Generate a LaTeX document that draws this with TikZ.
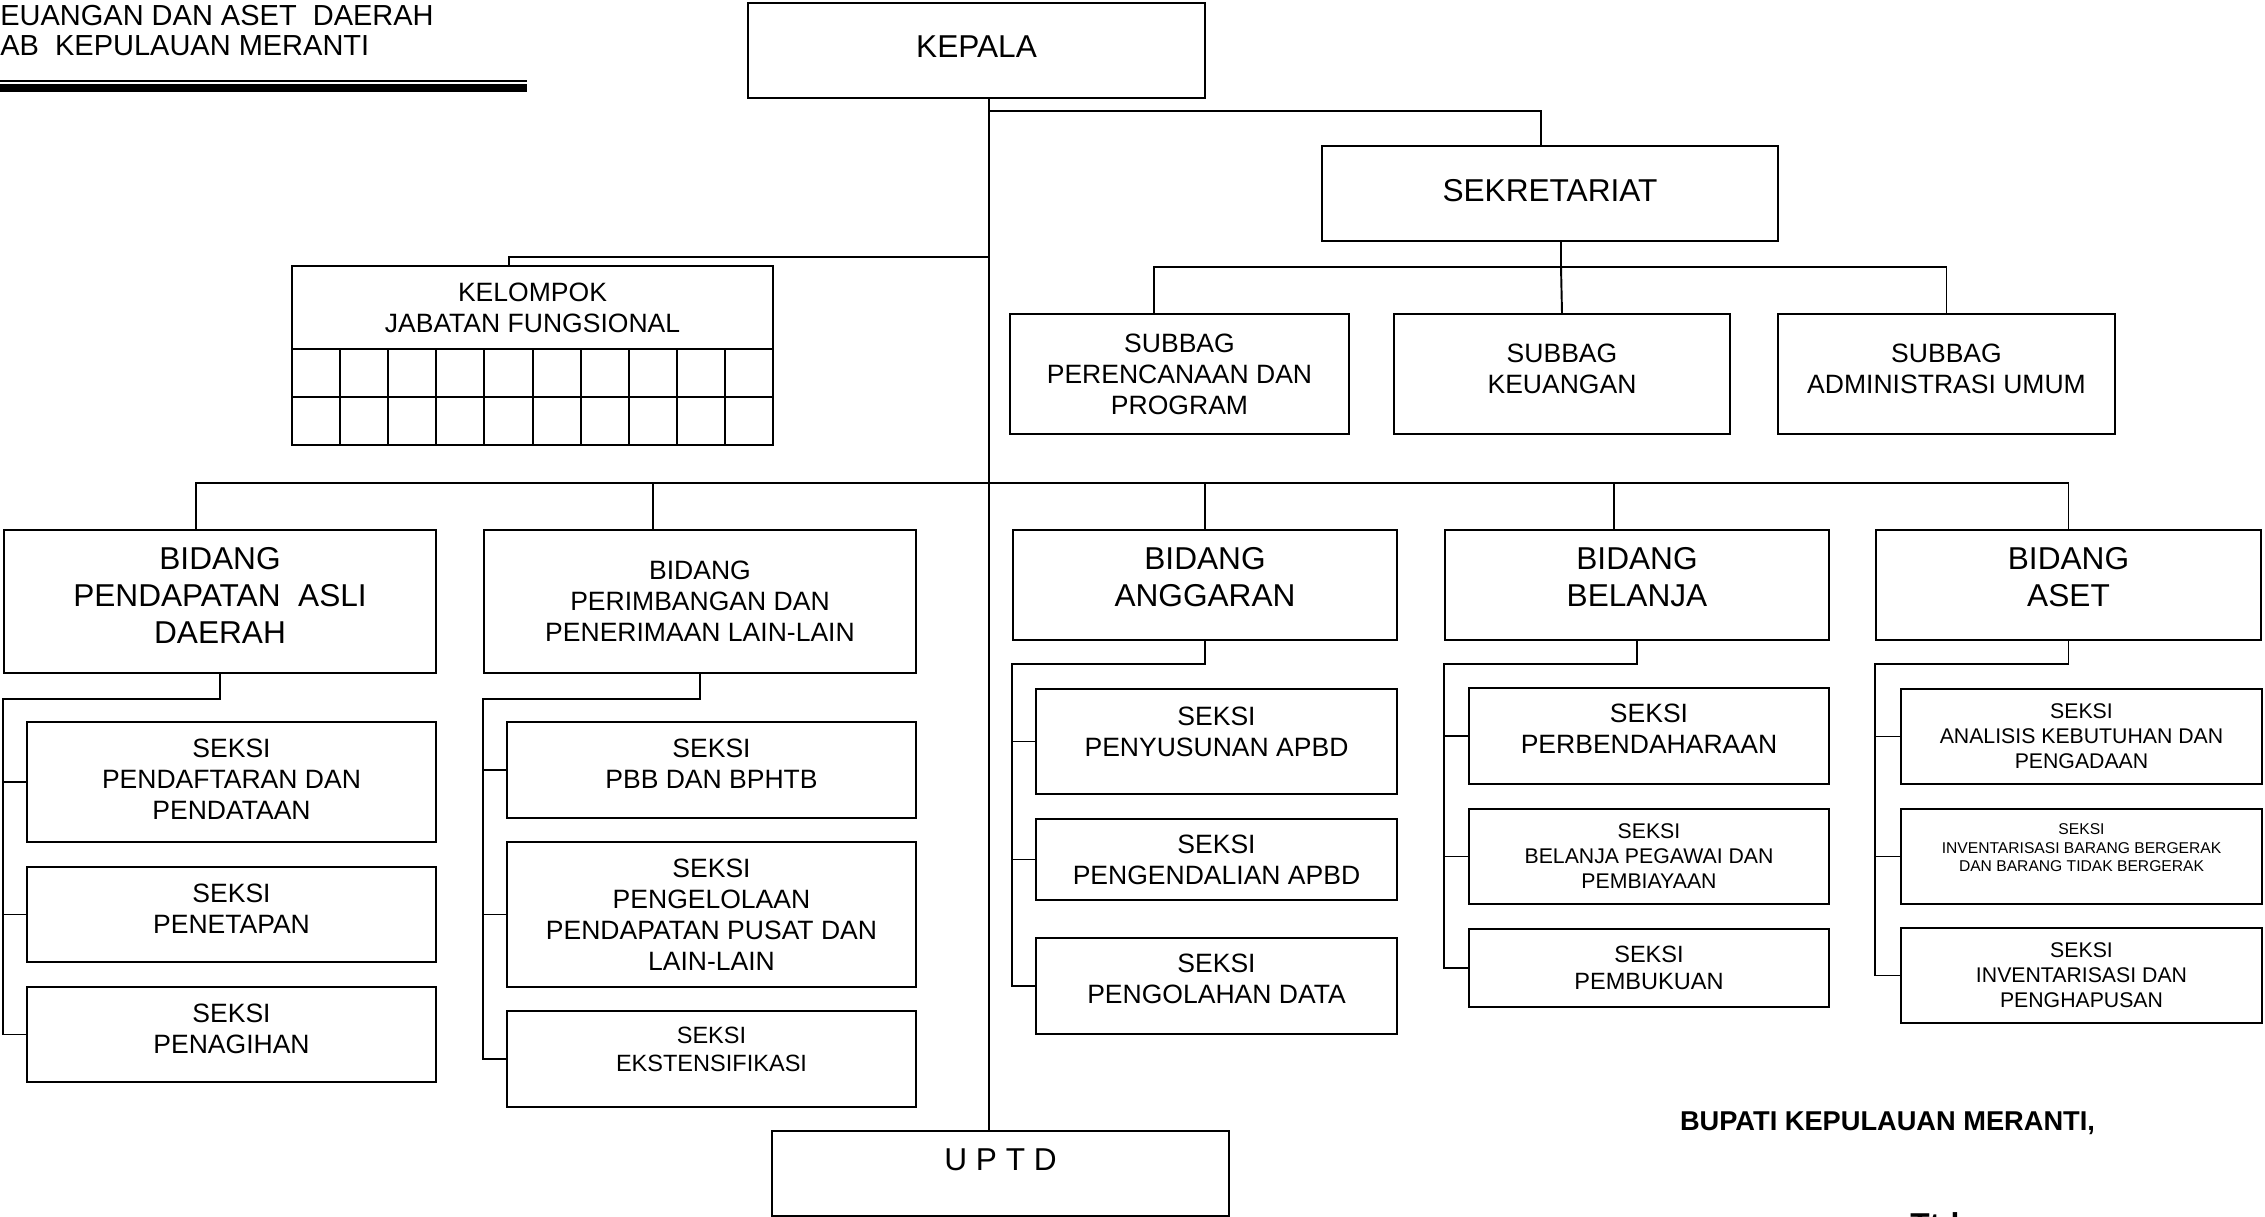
\documentclass[tikz,border=0pt]{standalone}
\usepackage{fontspec}
\setmainfont{Liberation Sans}
\usetikzlibrary{calc}

\tikzset{
  orgbox/.style={draw, line width=1.1pt, align=center, inner sep=0pt},
  sz/.style 2 args={minimum width=#1*0.2mm, minimum height=#2*0.2mm},
  lift/.style={text depth=#1},
  fbig/.style={font=\fontsize{18}{21}\selectfont},
  fmid/.style={font=\fontsize{15.1}{17.7}\selectfont},
  fsml/.style={font=\fontsize{13.4}{15.7}\selectfont},
  ftny/.style={font=\fontsize{12.1}{14.2}\selectfont},
  fmic/.style={font=\fontsize{8.9}{10.5}\selectfont},
  conn/.style={line width=1.1pt},
}

\begin{document}
\begin{tikzpicture}[x=0.02cm, y=-0.02cm]
\useasboundingbox (0,0) rectangle (2265,1217);

% kop surat
\node[anchor=west, inner sep=0pt, font=\fontsize{16.5}{19}\selectfont] (kop1) at (0,16) {EUANGAN DAN ASET~~DAERAH};
\node[anchor=west, inner sep=0pt, font=\fontsize{16.5}{19}\selectfont] (kop2) at (0,45.5) {AB~~KEPULAUAN MERANTI};
\draw[line width=1.6pt] (0,81) -- (527,81);
\draw[line width=4pt] (0,88) -- (527,88);

% pimpinan
\node[orgbox, fbig, sz={457}{95}, lift=4pt] (kepala) at (976.5,50.5) {KEPALA};
\node[orgbox, fbig, sz={456}{95}, lift=3.4pt] (sekretariat) at (1550,193.5) {SEKRETARIAT};
\node[orgbox, fmid, sz={339}{120}] (sub1) at (1179.5,374) {SUBBAG\\PERENCANAAN DAN\\PROGRAM};
\node[orgbox, fmid, sz={336}{120}, lift=5.7pt] (sub2) at (1562,374) {SUBBAG\\KEUANGAN};
\node[orgbox, fmid, sz={337}{120}, lift=5.7pt] (sub3) at (1946.5,374) {SUBBAG\\ADMINISTRASI UMUM};

% jabatan fungsional
\node[orgbox, fmid, sz={481}{83}, outer sep=0pt] (jafung) at (532.5,307.5) {KELOMPOK\\JABATAN FUNGSIONAL};
\node[orgbox, sz={481}{96}, outer sep=0pt, anchor=north] (jfgrid) at (jafung.south) {};
\foreach \i in {1,...,9}
  \draw[conn] ($(jfgrid.north west)+(48.1*\i,0)$) -- ($(jfgrid.south west)+(48.1*\i,0)$);
\draw[conn] (jfgrid.west) -- (jfgrid.east);

% bidang
\node[orgbox, fbig, sz={432}{143}, lift=6.8pt] (b1) at (220,601.5) {BIDANG\\PENDAPATAN~~ASLI\\DAERAH};
\node[orgbox, fmid, sz={432}{143}] (b2) at (700,601.5) {BIDANG\\PERIMBANGAN DAN\\PENERIMAAN LAIN-LAIN};
\node[orgbox, fbig, sz={384}{110}, lift=9pt] (b3) at (1205,585) {BIDANG\\ANGGARAN};
\node[orgbox, fbig, sz={384}{110}, lift=9pt] (b4) at (1637,585) {BIDANG\\BELANJA};
\node[orgbox, fbig, sz={385}{110}, lift=9pt] (b5) at (2068.5,585) {BIDANG\\ASET};

% seksi
\node[orgbox, fmid, sz={409}{120}, lift=3.4pt] (b1s1) at (231.5,782) {SEKSI\\PENDAFTARAN DAN\\PENDATAAN};
\node[orgbox, fmid, sz={409}{95}, lift=6.8pt] (b1s2) at (231.5,914.5) {SEKSI\\PENETAPAN};
\node[orgbox, fmid, sz={409}{95}, lift=6.8pt] (b1s3) at (231.5,1034.5) {SEKSI\\PENAGIHAN};

\node[orgbox, fmid, sz={409}{96}, lift=6.8pt] (b2s1) at (711.5,770) {SEKSI\\PBB DAN BPHTB};
\node[orgbox, fmid, sz={409}{145}] (b2s2) at (711.5,914.5) {SEKSI\\PENGELOLAAN\\PENDAPATAN PUSAT DAN\\LAIN-LAIN};
\node[orgbox, fsml, sz={409}{96}, lift=11.4pt] (b2s3) at (711.5,1059) {SEKSI\\EKSTENSIFIKASI};

\node[orgbox, fmid, sz={361}{105}, lift=11.4pt] (b3s1) at (1216.5,741.5) {SEKSI\\PENYUSUNAN APBD};
\node[orgbox, fmid, sz={361}{81}] (b3s2) at (1216.5,859.5) {SEKSI\\PENGENDALIAN APBD};
\node[orgbox, fmid, sz={361}{96}, lift=8pt] (b3s3) at (1216.5,986) {SEKSI\\PENGOLAHAN DATA};

\node[orgbox, fmid, sz={360}{96}, lift=8pt] (b4s1) at (1649,736) {SEKSI\\PERBENDAHARAAN};
\node[orgbox, ftny, sz={360}{95}] (b4s2) at (1649,856.5) {SEKSI\\BELANJA PEGAWAI DAN\\PEMBIAYAAN};
\node[orgbox, fsml, sz={360}{78}] (b4s3) at (1649,968) {SEKSI\\PEMBUKUAN};

\node[orgbox, ftny, sz={361}{95}] (b5s1) at (2081.5,736.5) {SEKSI\\ANALISIS KEBUTUHAN DAN\\PENGADAAN};
\node[orgbox, fmic, sz={361}{95}, lift=10.2pt] (b5s2) at (2081.5,856.5) {SEKSI\\INVENTARISASI BARANG BERGERAK\\DAN BARANG TIDAK BERGERAK};
\node[orgbox, ftny, sz={361}{95}] (b5s3) at (2081.5,975.5) {SEKSI\\INVENTARISASI DAN\\PENGHAPUSAN};

\node[orgbox, fbig, sz={457}{85}, lift=15.4pt] (uptd) at (1000.5,1173.5) {U P T D};

% pengesahan
\node[inner sep=0pt, font=\bfseries\fontsize{15.5}{18}\selectfont] (bupati) at (1887.5,1123) {BUPATI KEPULAUAN MERANTI,};
\node[anchor=north west, inner sep=0pt, font=\bfseries\fontsize{18}{21}\selectfont] (ttd) at (1910,1212) {Ttd};

% garis komando
\coordinate (stem) at ($(kepala.south)+(12.5,0)$);
\coordinate (jsek) at ($(stem)+(0,12)$);
\coordinate (jjf) at ($(stem)+(0,158)$);
\coordinate (jbid) at ($(stem)+(0,384)$);
\coordinate (jsub) at ($(sekretariat.south)+(11,25)$);

\draw[conn] (stem) -- (stem |- uptd.north);
\draw[conn] (jsek) -| ($(sekretariat.north)+(-9,0)$);
\draw[conn] (jjf) -| ($(jafung.north)+(-23.5,0)$);
\draw[conn] ($(sekretariat.south)+(11,0)$) -- (jsub);
\draw[conn] ($(sub1.north)+(-25.5,0)$) |- (jsub) -| (sub3.north);
\draw[conn] (jsub) -- (sub2.north);

\draw[conn] ($(b1.north)+(-24,0)$) |- (jbid) -| (b5.north);
\foreach \n/\dx in {b2/-47, b3/0, b4/-23}
  \draw[conn] ($(\n.north)+(\dx,0)$) |- (jbid);

\foreach \bd/\gap in {b1/25, b2/25, b3/23, b4/23, b5/23}{
  \coordinate (sp) at ($(\bd.south west)+(0,\gap)$);
  \draw[conn] (\bd.south) |- (sp) |- (\bd s3.west);
  \foreach \i in {1,2}
    \draw[conn] (sp |- \bd s\i.west) -- (\bd s\i.west);
}
\end{tikzpicture}
\end{document}
